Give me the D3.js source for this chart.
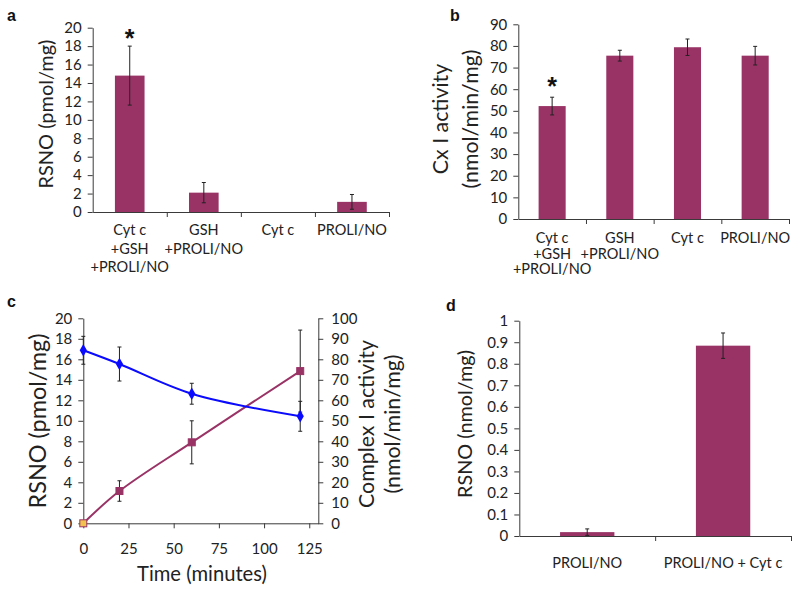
<!DOCTYPE html>
<html>
<head>
<meta charset="utf-8">
<script src="https://cdn.jsdelivr.net/npm/d3@7"></script>
<style>
  html, body { margin: 0; padding: 0; background: #fff; }
  svg { display: block; font-family: Lato, "Open Sans", sans-serif; }
  .axis path, .axis line { stroke: #3a3a3a; stroke-width: 1; }
  .axis text { font-family: Lato, sans-serif; fill: #222; }
</style>
</head>
<body>
<svg id="chart" width="800" height="589"></svg>
<script>
// ---------------- DATA ----------------
const abCategories = ["Cyt c\n+GSH\n+PROLI/NO", "GSH\n+PROLI/NO", "Cyt c", "PROLI/NO"];
const aValues = [14.8, 2.1, 0, 1.1];
const aErrors = [3.2, 1.1, 0, 0.8];
const aTicks = [0, 2, 4, 6, 8, 10, 12, 14, 16, 18, 20];

const bValues = [52.2, 75.5, 79.4, 75.5];
const bErrors = [4.1, 2.5, 3.8, 4.3];
const bTicks = [0, 10, 20, 30, 40, 50, 60, 70, 80, 90];

const cTime = [0, 20, 60, 120];
const cRSNO = [0, 3.15, 7.9, 14.85];
const cRSNOErrors = [0, 1.0, 2.1, 4.0];
const cComplexI = [84.4, 77.7, 63.2, 52.2];
const cComplexIErrors = [6.8, 8.3, 5.1, 7.3];
const cTimeTicks = [0, 25, 50, 75, 100, 125];
const cLeftTicks = [0, 2, 4, 6, 8, 10, 12, 14, 16, 18, 20];
const cRightTicks = [0, 10, 20, 30, 40, 50, 60, 70, 80, 90, 100];

const dCategories = ["PROLI/NO", "PROLI/NO + Cyt c"];
const dValues = [0.018, 0.884];
const dErrors = [0.015, 0.059];
const dTicks = [0, 0.1, 0.2, 0.3, 0.4, 0.5, 0.6, 0.7, 0.8, 0.9, 1];

// ---------------- STYLE ----------------
const barColor = "#993366";
const blueColor = "#0a0aff";
const tickFont = 15;
const catFont = 14.5;

const svg = d3.select("#chart");

function fitText(sel, target) {
  const base = 20;
  sel.style("font-size", base + "px");
  const L = sel.node().getComputedTextLength();
  sel.style("font-size", (base * target / L) + "px");
  return base * target / L;
}

function rotTitle(text, x, y, target, size) {
  const t = svg.append("text")
    .attr("transform", `translate(${x},${y}) rotate(-90)`)
    .attr("text-anchor", "middle")
    .attr("dominant-baseline", "central")
    .attr("fill", "#222")
    .text(text);
  if (size) t.style("font-size", size + "px");
  else return fitText(t, target);
  return size;
}

function caption(letter, x, y) {
  svg.append("text").attr("x", x).attr("y", y)
    .style("font-family", "'Liberation Sans', Arial, sans-serif")
    .style("font-weight", "bold").style("font-size", "16px")
    .attr("fill", "#111").text(letter);
}

function errorBars(g, data, xf, y, cap) {
  const eb = g.append("g").attr("stroke", "#222").attr("stroke-width", 1);
  data.forEach(d => {
    if (d.e <= 0) return;
    const x = xf(d);
    eb.append("line").attr("x1", x).attr("x2", x).attr("y1", y(d.v + d.e)).attr("y2", y(d.v - d.e));
    eb.append("line").attr("x1", x - cap).attr("x2", x + cap).attr("y1", y(d.v + d.e)).attr("y2", y(d.v + d.e));
    eb.append("line").attr("x1", x - cap).attr("x2", x + cap).attr("y1", y(d.v - d.e)).attr("y2", y(d.v - d.e));
  });
}

function barPanel(opts) {
  const { x0, x1, yTop, yBot, cats, values, errors, ticks, max, fmt, lineH, labelY } = opts;
  const g = svg.append("g");
  const x = d3.scaleBand().domain(cats).range([x0, x1]).paddingInner(0.6).paddingOuter(0.3);
  const y = d3.scaleLinear().domain([0, max]).range([yBot, yTop]);
  const n = cats.length;
  const xb = d3.scaleLinear().domain([0, n]).range([x0, x1]);

  g.append("g").attr("class", "axis").attr("transform", `translate(${x0},0)`)
    .call(d3.axisLeft(y).tickValues(ticks).tickSize(5).tickSizeOuter(0).tickPadding(6).tickFormat(fmt || d3.format("d")))
    .call(s => s.selectAll("text").style("font-size", tickFont + "px"));
  g.append("g").attr("class", "axis").attr("transform", `translate(0,${yBot})`)
    .call(d3.axisBottom(xb).tickValues(d3.range(1, n + 1)).tickSize(5).tickSizeOuter(0).tickFormat(""));

  const data = cats.map((c, i) => ({ c, v: values[i], e: errors[i] }));
  g.selectAll("rect.bar").data(data).join("rect")
    .attr("x", d => x(d.c)).attr("width", x.bandwidth())
    .attr("y", d => y(d.v)).attr("height", d => yBot - y(d.v))
    .attr("fill", barColor);
  errorBars(g, data, d => x(d.c) + x.bandwidth() / 2, y, 2);

  data.forEach(d => {
    const lines = d.c.split("\n");
    const t = g.append("text").attr("text-anchor", "middle").style("font-size", catFont + "px").attr("fill", "#222");
    lines.forEach((ln, i) => {
      t.append("tspan").attr("x", x(d.c) + x.bandwidth() / 2).attr("y", labelY + i * lineH)
        .attr("dy", "0.35em").text(ln);
    });
  });
  return { x, y };
}

// ---------------- PANEL A ----------------
const pa = barPanel({ x0: 92.7, x1: 389, yTop: 27.7, yBot: 212, cats: abCategories, values: aValues,
  errors: aErrors, ticks: aTicks, max: 20, lineH: 18.5, labelY: 230 });
svg.append("text").attr("x", pa.x(abCategories[0]) + pa.x.bandwidth() / 2).attr("y", 47)
  .attr("text-anchor", "middle").style("font-size", "25px").style("font-weight", "bold")
  .style("font-family", "'Liberation Sans', Arial, sans-serif").attr("fill", "#111").text("*");
rotTitle("RSNO (pmol/mg)", 45, 114, 149);
caption("a", 7, 21);

// ---------------- PANEL B ----------------
const pb = barPanel({ x0: 518.3, x1: 789, yTop: 24.3, yBot: 219, cats: abCategories, values: bValues,
  errors: bErrors, ticks: bTicks, max: 90, lineH: 15.5, labelY: 238 });
svg.append("text").attr("x", pb.x(abCategories[0]) + pb.x.bandwidth() / 2).attr("y", 95)
  .attr("text-anchor", "middle").style("font-size", "25px").style("font-weight", "bold")
  .style("font-family", "'Liberation Sans', Arial, sans-serif").attr("fill", "#111").text("*");
const bSize = rotTitle("(nmol/min/mg)", 470, 119, 139);
rotTitle("Cx I activity", 440, 119, 0, bSize);
caption("b", 450, 21);

// ---------------- PANEL C ----------------
(function () {
  const g = svg.append("g");
  const x = d3.scaleLinear().domain([0, 130]).range([83.3, 318.3]);
  const yL = d3.scaleLinear().domain([0, 20]).range([523.3, 318.3]);
  const yR = d3.scaleLinear().domain([0, 100]).range([523.3, 318.3]);

  g.append("g").attr("class", "axis").attr("transform", "translate(83.3,0)")
    .call(d3.axisLeft(yL).tickValues(cLeftTicks).tickSize(5).tickSizeOuter(0).tickPadding(6).tickFormat(d3.format("d")))
    .call(s => s.selectAll("text").style("font-size", tickFont + "px"));
  g.append("g").attr("class", "axis").attr("transform", "translate(318.3,0)")
    .call(d3.axisRight(yR).tickValues(cRightTicks).tickSize(5).tickSizeOuter(0).tickPadding(8).tickFormat(d3.format("d")))
    .call(s => s.selectAll("text").style("font-size", tickFont + "px"));
  g.append("g").attr("class", "axis").attr("transform", "translate(0,523.3)")
    .call(d3.axisBottom(x).tickValues(cTimeTicks).tickSize(5).tickSizeOuter(0).tickPadding(15).tickFormat(d3.format("d")))
    .call(s => s.selectAll("text").style("font-size", tickFont + "px"));

  const line = d3.line().curve(d3.curveCatmullRom.alpha(0.5));
  const rs = cTime.map((t, i) => ({ t, v: cRSNO[i], e: cRSNOErrors[i] }));
  const cx = cTime.map((t, i) => ({ t, v: cComplexI[i], e: cComplexIErrors[i] }));

  errorBars(g, cx, d => x(d.t), yR, 2);
  errorBars(g, rs, d => x(d.t), yL, 2);

  g.append("path").attr("d", line(rs.map(d => [x(d.t), yL(d.v)])))
    .attr("fill", "none").attr("stroke", barColor).attr("stroke-width", 2);
  g.append("path").attr("d", line(cx.map(d => [x(d.t), yR(d.v)])))
    .attr("fill", "none").attr("stroke", blueColor).attr("stroke-width", 2);

  g.selectAll("rect.sq").data(rs).join("rect")
    .attr("x", d => x(d.t) - 3.5).attr("y", d => yL(d.v) - 3.5).attr("width", 7).attr("height", 7)
    .attr("fill", (d, i) => i === 0 ? "#f2c14e" : barColor)
    .attr("stroke", barColor).attr("stroke-width", 1);
  g.selectAll("path.dia").data(cx).join("path")
    .attr("d", d3.symbol().type(d3.symbolDiamond).size(45))
    .attr("transform", d => `translate(${x(d.t)},${yR(d.v)})`)
    .attr("fill", blueColor);

  rotTitle("RSNO (pmol/mg)", 37, 421, 175);
  const rSize = rotTitle("Complex I activity", 366, 424, 168);
  rotTitle("(nmol/min/mg)", 392, 424, 0, rSize);
  const tt = svg.append("text").attr("x", 202).attr("y", 573).attr("text-anchor", "middle")
    .attr("dominant-baseline", "central").attr("fill", "#222").text("Time (minutes)");
  fitText(tt, 130);
  caption("c", 7, 307);
})();

// ---------------- PANEL D ----------------
(function () {
  const g = svg.append("g");
  const x0 = 519.3, x1 = 791, yTop = 320.7, yBot = 536;
  const x = d3.scaleBand().domain(dCategories).range([x0, x1]).paddingInner(0.6).paddingOuter(0.3);
  const y = d3.scaleLinear().domain([0, 1]).range([yBot, yTop]);
  const xb = d3.scaleLinear().domain([0, dCategories.length]).range([x0, x1]);

  g.append("g").attr("class", "axis").attr("transform", `translate(${x0},0)`)
    .call(d3.axisLeft(y).tickValues(dTicks).tickSize(5).tickSizeOuter(0).tickPadding(6).tickFormat(d => d3.format("~g")(d)))
    .call(s => s.selectAll("text").style("font-size", tickFont + "px"));
  g.append("g").attr("class", "axis").attr("transform", `translate(0,${yBot})`)
    .call(d3.axisBottom(xb).tickValues([1, 2]).tickSize(5).tickSizeOuter(0).tickFormat(""));

  const data = dCategories.map((c, i) => ({ c, v: dValues[i], e: dErrors[i] }));
  g.selectAll("rect.bar").data(data).join("rect")
    .attr("x", d => x(d.c)).attr("width", x.bandwidth())
    .attr("y", d => y(d.v)).attr("height", d => yBot - y(d.v)).attr("fill", barColor);
  errorBars(g, data, d => x(d.c) + x.bandwidth() / 2, y, 2);
  g.selectAll("text.cat").data(data).join("text")
    .attr("x", d => x(d.c) + x.bandwidth() / 2).attr("y", 562.7).attr("dy", "0.35em")
    .attr("text-anchor", "middle").style("font-size", catFont + "px").attr("fill", "#222").text(d => d.c);

  rotTitle("RSNO (nmol/mg)", 464, 424, 148);
  caption("d", 446, 311);
})();
</script>
</body>
</html>
